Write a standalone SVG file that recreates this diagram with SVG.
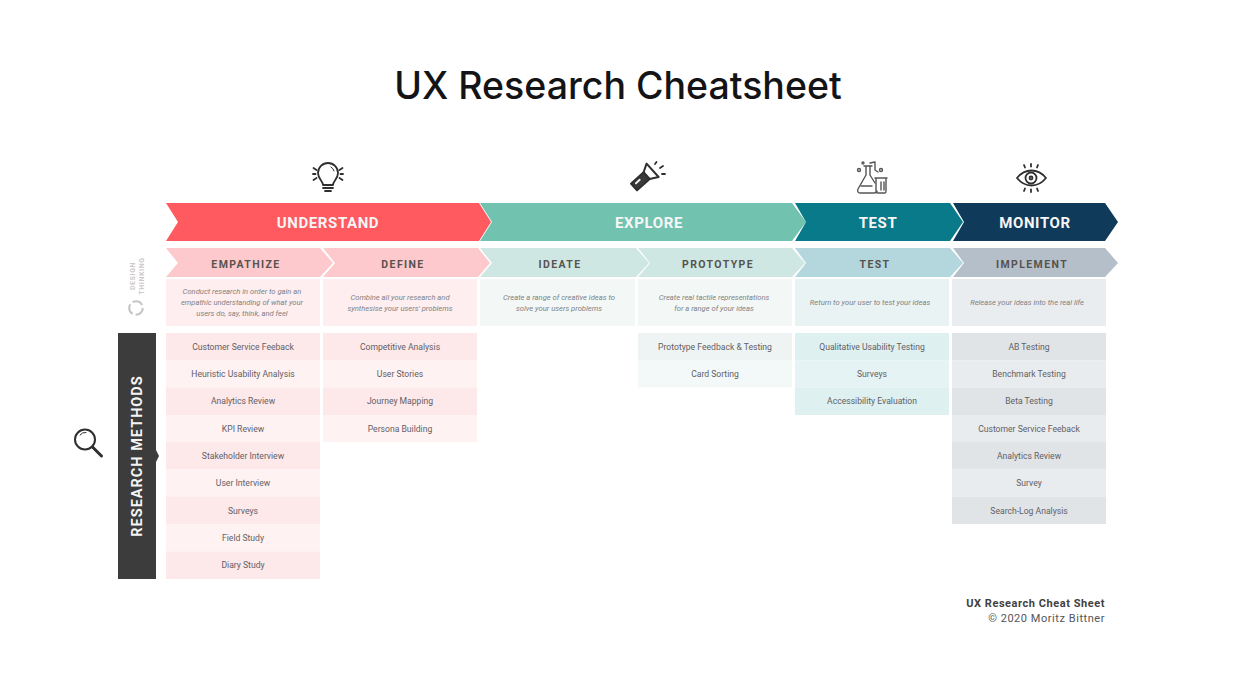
<svg xmlns="http://www.w3.org/2000/svg" width="1236" height="700" viewBox="0 0 1236 700">
<style>
text{font-family:Roboto,"Liberation Sans",sans-serif;text-anchor:middle}
.title{font-family:Inter,"Liberation Sans",sans-serif;font-size:37.5px;font-weight:500;fill:#141416}
.h1{font-size:15px;font-weight:700;fill:#f6f6f6;letter-spacing:.6px}
.h2{font-size:10.5px;font-weight:700;letter-spacing:1.4px;fill:#57534f}
.d{font-size:7.6px;font-style:italic;fill:#808284}
.m{font-size:8.6px;fill:#626064}
.ic{fill:none;stroke:#2f2f2f;stroke-width:1.8;stroke-linecap:round;stroke-linejoin:round}
.r{fill:#ff5a5f}.t{fill:#72c2b0}.b{fill:#087a8a}.n{fill:#0f3a5a}
.r2{fill:#fdc9cc}.t2{fill:#cfe7e3}.b2{fill:#b4d7dd}.n2{fill:#b4bfca}
.r3{fill:#feeeef}.t3{fill:#f3f8f7}.b3{fill:#e9f3f4}.n3{fill:#eaedf0}
.ra{fill:#fde8ea}.rb{fill:#fef2f3}.ta{fill:#eef4f3}.tb{fill:#f3f9f8}.ba{fill:#dff0f1}.bb{fill:#e6f3f4}.na{fill:#e0e4e7}.nb{fill:#e9ecef}
.dt{font-size:7px;font-weight:700;letter-spacing:.6px;fill:#cacaca}
.f{text-anchor:end;font-size:11px;letter-spacing:.55px}
</style>
<text class="title" x="618" y="99">UX Research Cheatsheet</text>
<g id="icon-understand" class="ic">
<path d="M323 185c0-4-5-6-5-12a10 10 0 0 1 20 0c0 6-5 8-5 12z"/><path d="M323 188h10M325 191h6"/><path d="M331 167a6 6 0 0 1 3 4" style="stroke-width:1"/><path d="M313.500 168l3 2M313.500 180l3-2M313 174h2.500M342.500 168l-3 2M342.500 180l-3-2M343 174h-2.500"/>
</g>
<g id="icon-explore" class="ic">
<g transform="translate(634 187) rotate(-42)" style="stroke-width:2"><rect x="0" y="-4.500" width="17" height="9" fill="#3a3a3a"/><path d="M17-4.500L25-9V9L17 4.500"/><path d="M4-1.500h5" stroke="#eee"/></g>
<path d="M655 164l1.500-2M660 168l3-2M662 174l3 0"/>
</g>
<g id="icon-test" class="ic" style="stroke:#555;stroke-width:1.400">
<path d="M864 166h8M866 166v9l-8 14c-1 2 0 4 2 4h14c2 0 3-1 3-2"/><path d="M870 166v9l5 8"/><path d="M870 163l5-1v8l3 2"/><path d="M875 178h12M876 178v13c0 1 1 2 2 2h7c1 0 1-1 1-2v-13"/><path d="M881 182v8M884 182v8"/><circle cx="859" cy="170" r="1.500"/><circle cx="881" cy="170" r="1.500"/><circle cx="863" cy="163" r="1"/><path d="M861 186h11"/>
</g>
<g id="icon-monitor" class="ic">
<path d="M1017 178c8-10 21-10 29 0c-8 10-21 10-29 0z"/><circle cx="1031" cy="178" r="5.500"/><circle cx="1031" cy="178" r="1.500"/><path d="M1031 164v2.500M1024 165l1 2.500M1038 165l-1 2.500M1031 189.500v2.500M1024 191l1-2.500M1038 191l-1-2.500"/>
</g>
<g id="understand"><path class="r" d="M166 203H479L491 222L479 241H166L178 222Z"/><text class="h1" x="328" y="228">UNDERSTAND</text></g>
<g id="explore"><path class="t" d="M480 203H792L806 222L792 241H480L492 222Z"/><text class="h1" x="649" y="228">EXPLORE</text></g>
<g id="test"><path class="b" d="M795 203H950L963 222L950 241H795L806 222Z"/><text class="h1" x="878" y="228">TEST</text></g>
<g id="monitor"><path class="n" d="M953 203H1105L1118 222L1105 241H953L964 222Z"/><text class="h1" x="1035" y="228">MONITOR</text></g>
<g id="empathize"><path class="r2" d="M166 248H320L333 263L320 277H166L178 263Z"/><text class="h2" x="246" y="267.500">EMPATHIZE</text></g>
<g id="define"><path class="r2" d="M323 248H478L490 263L478 277H323L335 263Z"/><text class="h2" x="403" y="267.500">DEFINE</text></g>
<g id="ideate"><path class="t2" d="M480 248H636L649 263L636 277H480L492 263Z"/><text class="h2" x="560" y="267.500">IDEATE</text></g>
<g id="prototype"><path class="t2" d="M638 248H792L805 263L792 277H638L650 263Z"/><text class="h2" x="718" y="267.500">PROTOTYPE</text></g>
<g id="test-sub"><path class="b2" d="M795 248H950L963 263L950 277H795L806 263Z"/><text class="h2" x="875" y="267.500">TEST</text></g>
<g id="implement"><path class="n2" d="M953 248H1105L1118 263L1105 277H953L964 263Z"/><text class="h2" x="1032" y="267.500">IMPLEMENT</text></g>
<g id="desc-empathize"><rect class="r3" x="166" y="279" width="154" height="47"/><text class="d" x="242" y="294">Conduct research in order to gain an</text><text class="d" x="242" y="305">empathic understanding of what your</text><text class="d" x="242" y="316">users do, say, think, and feel</text></g>
<g id="desc-define"><rect class="r3" x="323" y="279" width="154" height="47"/><text class="d" x="400" y="300">Combine all your research and</text><text class="d" x="400" y="311">synthesise your users' problems</text></g>
<g id="desc-ideate"><rect class="t3" x="480" y="279" width="155" height="47"/><text class="d" x="559" y="300">Create a range of creative ideas to</text><text class="d" x="559" y="311">solve your users problems</text></g>
<g id="desc-prototype"><rect class="t3" x="638" y="279" width="154" height="47"/><text class="d" x="714" y="300">Create real tactile representations</text><text class="d" x="714" y="311">for a range of your ideas</text></g>
<g id="desc-test"><rect class="b3" x="795" y="279" width="154" height="47"/><text class="d" x="870" y="305">Return to your user to test your ideas</text></g>
<g id="desc-implement"><rect class="n3" x="952" y="279" width="154" height="47"/><text class="d" x="1027" y="305">Release your ideas into the real life</text></g>
<g id="design-thinking">
<text class="dt" x="135" y="276" transform="rotate(-90 135 276)">DESIGN</text>
<text class="dt" x="144" y="276" transform="rotate(-90 144 276)">THINKING</text>
<circle cx="136" cy="308" r="6.800" fill="none" stroke="#c4c4c4" stroke-width="2" stroke-dasharray="11 3.200"/>
</g>
<g id="research-methods"><rect x="118" y="333" width="38" height="246" fill="#3c3c3c"/><path d="M156 450L159 456L156 462Z" fill="#3c3c3c"/><text x="142" y="456" transform="rotate(-90 142 456)" style="font-size:14.500px;font-weight:700;fill:#f4f4f4;letter-spacing:1px">RESEARCH METHODS</text></g>
<g id="icon-search" class="ic" style="stroke-width:2"><circle cx="85" cy="439.500" r="10"/><path d="M80 435a6 6 0 0 1 6-2.500" style="stroke-width:1"/><path d="M92.500 447l9 9" style="stroke-width:3"/></g>
<g id="list-empathize">
<rect class="ra" x="166" y="333" width="154" height="27.500"/><text class="m" x="243" y="350">Customer Service Feeback</text>
<rect class="rb" x="166" y="360.500" width="154" height="27"/><text class="m" x="243" y="377">Heuristic Usability Analysis</text>
<rect class="ra" x="166" y="387.500" width="154" height="27.500"/><text class="m" x="243" y="404">Analytics Review</text>
<rect class="rb" x="166" y="415" width="154" height="27"/><text class="m" x="243" y="431.500">KPI Review</text>
<rect class="ra" x="166" y="442" width="154" height="27.500"/><text class="m" x="243" y="459">Stakeholder Interview</text>
<rect class="rb" x="166" y="469.500" width="154" height="27"/><text class="m" x="243" y="486">User Interview</text>
<rect class="ra" x="166" y="496.500" width="154" height="27.500"/><text class="m" x="243" y="513.500">Surveys</text>
<rect class="rb" x="166" y="524" width="154" height="27.500"/><text class="m" x="243" y="540.500">Field Study</text>
<rect class="ra" x="166" y="551.500" width="154" height="27.500"/><text class="m" x="243" y="568">Diary Study</text>
</g>
<g id="list-define">
<rect class="ra" x="323" y="333" width="154" height="27.500"/><text class="m" x="400" y="350">Competitive Analysis</text>
<rect class="rb" x="323" y="360.500" width="154" height="27"/><text class="m" x="400" y="377">User Stories</text>
<rect class="ra" x="323" y="387.500" width="154" height="27.500"/><text class="m" x="400" y="404">Journey Mapping</text>
<rect class="rb" x="323" y="415" width="154" height="27"/><text class="m" x="400" y="431.500">Persona Building</text>
</g>
<g id="list-prototype">
<rect class="ta" x="638" y="333" width="154" height="27.500"/><text class="m" x="715" y="350">Prototype Feedback &amp; Testing</text>
<rect class="tb" x="638" y="360.500" width="154" height="27"/><text class="m" x="715" y="377">Card Sorting</text>
</g>
<g id="list-test">
<rect class="ba" x="795" y="333" width="154" height="27.500"/><text class="m" x="872" y="350">Qualitative Usability Testing</text>
<rect class="bb" x="795" y="360.500" width="154" height="27"/><text class="m" x="872" y="377">Surveys</text>
<rect class="ba" x="795" y="387.500" width="154" height="27.500"/><text class="m" x="872" y="404">Accessibility Evaluation</text>
</g>
<g id="list-implement">
<rect class="na" x="952" y="333" width="154" height="27.500"/><text class="m" x="1029" y="350">AB Testing</text>
<rect class="nb" x="952" y="360.500" width="154" height="27"/><text class="m" x="1029" y="377">Benchmark Testing</text>
<rect class="na" x="952" y="387.500" width="154" height="27.500"/><text class="m" x="1029" y="404">Beta Testing</text>
<rect class="nb" x="952" y="415" width="154" height="27"/><text class="m" x="1029" y="431.500">Customer Service Feeback</text>
<rect class="na" x="952" y="442" width="154" height="27.500"/><text class="m" x="1029" y="459">Analytics Review</text>
<rect class="nb" x="952" y="469.500" width="154" height="27"/><text class="m" x="1029" y="486">Survey</text>
<rect class="na" x="952" y="496.500" width="154" height="27.500"/><text class="m" x="1029" y="513.500">Search-Log Analysis</text>
</g>
<g id="footer"><text class="f" x="1105" y="607" style="font-weight:700;fill:#3f3f3f">UX Research Cheat Sheet</text><text class="f" x="1105" y="622" style="fill:#555">© 2020 Moritz Bittner</text></g>
<g id="connectors"></g>
</svg>
